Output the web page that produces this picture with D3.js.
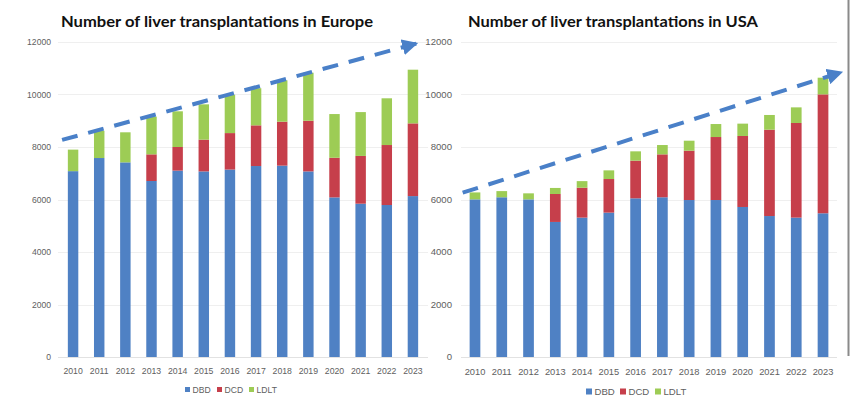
<!DOCTYPE html>
<html><head><meta charset="utf-8">
<script src="https://cdn.jsdelivr.net/npm/d3@7"></script>
<style>
html,body{margin:0;padding:0;background:#fff;}
svg{display:block;}
</style></head>
<body>
<svg id="c" width="850" height="398"></svg>
<script>
const years = ["2010","2011","2012","2013","2014","2015","2016","2017","2018","2019","2020","2021","2022","2023"];
const seriesNames = ["DBD","DCD","LDLT"];
const yTicks = [0,2000,4000,6000,8000,10000,12000];

const europeDBD  = [7080,7580,7415,6705,7100,7070,7140,7275,7290,7070,6080,5840,5790,6130];
const europeDCD  = [0,0,0,1015,900,1210,1390,1550,1675,1930,1510,1820,2285,2770];
const europeLDLT = [820,1040,1145,1435,1360,1345,1460,1415,1575,1830,1665,1670,1780,2045];

const usaDBD  = [6005,6085,6005,5145,5310,5500,6045,6085,5980,5980,5715,5370,5310,5475];
const usaDCD  = [0,0,0,1065,1140,1280,1435,1635,1880,2400,2705,3290,3605,4530];
const usaLDLT = [265,235,230,230,250,330,355,355,380,495,470,560,595,635];

// trend arrows: position in band units from first year center, value
const europeTrend = [{pos:-0.42, value:8270},{pos:13.2, value:11960}];
const usaTrend    = [{pos:-0.46, value:6260},{pos:13.75, value:10870}];

const titles = ["Number of liver transplantations in Europe","Number of liver transplantations in USA"];

const colors = {DBD:"#4f81c4", DCD:"#c63f4b", LDLT:"#9dcc55"};
const svg = d3.select("#c");

const panels = [
  {title:titles[0], dbd:europeDBD, dcd:europeDCD, ldlt:europeLDLT, trend:europeTrend,
   x0:60, x1:426, gx0:58, gx1:428, tickX:51, tickFs:8.6, yearFs:8.7, yearY:374,
   titleX:61, titleW:312, legX:185, legFs:8.6, legSq:5, legGap:[0,32,64], legY:390},
  {title:titles[1], dbd:usaDBD, dcd:usaDCD, ldlt:usaLDLT, trend:usaTrend,
   x0:461.6, x1:836.4, gx0:461, gx1:837, tickX:452, tickFs:9.6, yearFs:9.3, yearY:375,
   titleX:468, titleW:290, legX:586, legFs:9.6, legSq:6, legGap:[0,34,69], legY:392}
];

const y = d3.scaleLinear().domain([0,12000]).range([357,42]);

svg.append("defs").append("marker")
  .attr("id","arrow").attr("viewBox","0 0 10 10").attr("refX",10).attr("refY",5)
  .attr("markerWidth",4).attr("markerHeight",4).attr("markerUnits","strokeWidth")
  .attr("orient","auto")
  .append("path").attr("d","M0,0 L10,5 L0,10 z").attr("fill","#4a80c8");

panels.forEach((p,pi)=>{
  const g = svg.append("g");
  const x = d3.scaleBand().domain(years).range([p.x0,p.x1]).paddingInner(0.6).paddingOuter(0.3);

  // gridlines
  g.selectAll("line.grid").data(yTicks).join("line")
    .attr("x1",p.gx0).attr("x2",p.gx1)
    .attr("y1",d=>Math.round(y(d))+0.5).attr("y2",d=>Math.round(y(d))+0.5)
    .attr("stroke",d=>d===0?"#e2e2e2":"#efefef").attr("stroke-width",1);

  // y tick labels
  g.selectAll("text.yt").data(yTicks).join("text")
    .attr("x",p.tickX).attr("y",d=>y(d)+3.2)
    .attr("text-anchor","end").attr("font-family","Liberation Sans, Arial, sans-serif")
    .attr("font-size",p.tickFs).attr("fill","#606060").text(d=>d);

  // stacked bars
  const rows = years.map((yr,i)=>({year:yr, DBD:p.dbd[i], DCD:p.dcd[i], LDLT:p.ldlt[i]}));
  const stack = d3.stack().keys(seriesNames)(rows);
  g.selectAll("g.s").data(stack).join("g").attr("fill",d=>colors[d.key])
    .selectAll("rect").data(d=>d).join("rect")
    .attr("x",d=>x(d.data.year)).attr("width",x.bandwidth())
    .attr("y",d=>y(d[1])).attr("height",d=>Math.max(0,y(d[0])-y(d[1])));

  // year labels
  g.selectAll("text.xt").data(years).join("text")
    .attr("x",d=>x(d)+x.bandwidth()/2).attr("y",p.yearY)
    .attr("text-anchor","middle").attr("font-family","Liberation Sans, Arial, sans-serif")
    .attr("font-size",p.yearFs).attr("fill","#606060").text(d=>d);

  // title
  g.append("text").attr("x",p.titleX).attr("y",26.5)
    .attr("font-family","Lato, 'Open Sans', sans-serif").attr("font-weight","bold")
    .attr("font-size",16).attr("fill","#111")
    .attr("textLength",p.titleW).attr("lengthAdjust","spacingAndGlyphs")
    .text(p.title);

  // trend arrow
  const c0 = x(years[0]) + x.bandwidth()/2;
  const tx = d=> c0 + d.pos*x.step();
  const line = d3.line().x(tx).y(d=>y(d.value));
  g.append("path").datum(p.trend).attr("d",line)
    .attr("fill","none").attr("stroke","#4a80c8").attr("stroke-width",4)
    .attr("stroke-dasharray","16,11")
    .attr("marker-end","url(#arrow)");

  // legend
  const lg = g.append("g");
  seriesNames.forEach((s,i)=>{
    const lx = p.legX + p.legGap[i];
    lg.append("rect").attr("x",lx).attr("y",p.legY-p.legSq/2-0.5)
      .attr("width",p.legSq).attr("height",p.legSq).attr("fill",colors[s]);
    lg.append("text").attr("x",lx+p.legSq+2.5).attr("y",p.legY+p.legFs*0.36)
      .attr("font-family","Liberation Sans, Arial, sans-serif").attr("font-size",p.legFs)
      .attr("fill","#606060").text(s);
  });
});

// right edge border of the screenshot
svg.append("line").attr("x1",848.5).attr("x2",848.5).attr("y1",0).attr("y2",356)
  .attr("stroke","#8a8a8a").attr("stroke-width",2);
</script>
</body></html>
